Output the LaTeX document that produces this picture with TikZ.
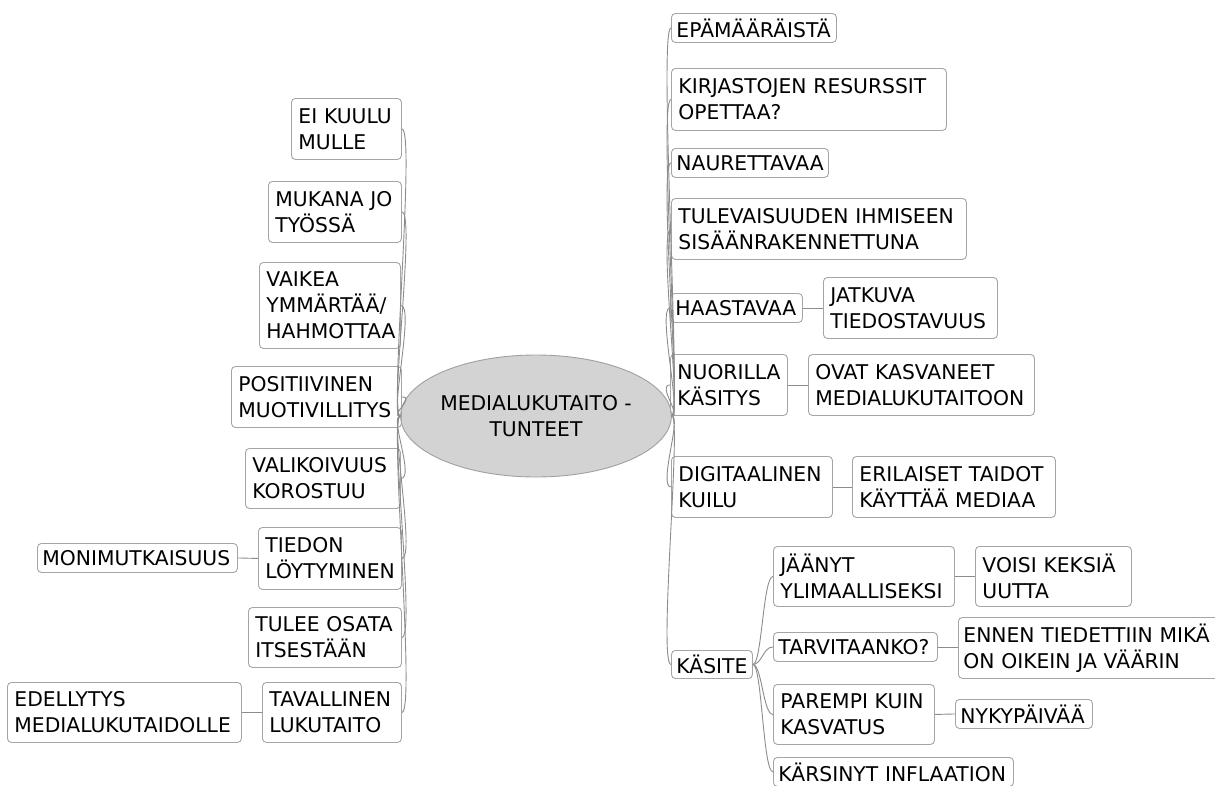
\documentclass[tikz,border=0pt]{standalone}
\usepackage{fontspec}
\setmainfont{DejaVu Sans}
\usetikzlibrary{shapes.geometric}
\definecolor{boxline}{RGB}{165,165,165}
\definecolor{conn}{RGB}{140,140,140}
\definecolor{ellfill}{RGB}{211,211,211}
\definecolor{ellline}{RGB}{160,160,160}
\tikzset{
  bx/.style={draw=boxline, line width=0.9pt, rounded corners=4pt, anchor=north west,
    align=left, inner xsep=7pt, inner ysep=1pt, text=black,
    font=\fontsize{20.3}{26}\selectfont},
  one/.style={inner xsep=5pt, minimum height=29pt},
  two/.style={minimum height=61pt},
  link/.style={draw=conn, line width=0.9pt},
  central/.style={ellipse, draw=ellline, fill=ellfill, line width=0.9pt,
    minimum width=230pt, minimum height=122pt, inner sep=0pt, align=center,
    font=\fontsize{20.3}{26}\selectfont}
}
\begin{document}
\begin{tikzpicture}[x=1pt,y=-1pt]
\useasboundingbox (0,0) rectangle (1215,785);
\clip (0,0) rectangle (1215,785);

\node[central] (c) at (536,416) {MEDIALUKUTAITO -\\TUNTEET};

% left side
\node[bx,two,text width=96pt] (ekuulu) at (291,98) {EI~KUULU\\MULLE};
\node[bx,two,text width=119pt] (mukana) at (268,181) {MUKANA~JO\\TYÖSSÄ};
\node[bx,minimum height=86pt,text width=127pt] (vaikea) at (259,262) {VAIKEA\\YMMÄRTÄÄ/\\HAHMOTTAA};
\node[bx,two,text width=156pt] (posit) at (231,366) {POSITIIVINEN\\MUOTIVILLITYS};
\node[bx,minimum height=60pt,text width=141pt] (valik) at (245,448) {VALIKOIVUUS\\KOROSTUU};
\node[bx,minimum height=62pt,text width=129pt] (tiedon) at (258,527) {TIEDON\\LÖYTYMINEN};
\node[bx,one,text width=190pt] (moni) at (37,543) {MONIMUTKAISUUS};
\node[bx,minimum height=60pt,text width=139pt] (tulee) at (248,607) {TULEE~OSATA\\ITSESTÄÄN};
\node[bx,minimum height=60pt,text width=125pt] (taval) at (262,682) {TAVALLINEN\\LUKUTAITO};
\node[bx,minimum height=60pt,text width=220pt] (edell) at (7,682) {EDELLYTYS\\MEDIALUKUTAIDOLLE};

% right side
\node[bx,one,text width=155pt] (epa) at (671,13) {EPÄMÄÄRÄISTÄ};
\node[bx,minimum height=62pt,text width=261pt] (kirj) at (671,68) {KIRJASTOJEN~RESURSSIT\\OPETTAA?};
\node[bx,one,text width=147pt] (naur) at (671,148) {NAURETTAVAA};
\node[bx,two,text width=281pt] (tulev) at (671,198) {TULEVAISUUDEN~IHMISEEN\\SISÄÄNRAKENNETTUNA};
\node[bx,one,text width=122pt] (haast) at (670,293) {HAASTAVAA};
\node[bx,two,text width=160pt] (jatk) at (823,277) {JATKUVA\\TIEDOSTAVUUS};
\node[bx,two,text width=103pt] (nuor) at (670,354) {NUORILLA\\KÄSITYS};
\node[bx,two,text width=212pt] (ovat) at (808,354) {OVAT~KASVANEET\\MEDIALUKUTAITOON};
\node[bx,two,text width=147pt] (digi) at (671,456) {DIGITAALINEN\\KUILU};
\node[bx,two,text width=189pt] (eril) at (852,456) {ERILAISET~TAIDOT\\KÄYTTÄÄ~MEDIAA};
\node[bx,one,minimum height=28pt,text width=71pt] (kasite) at (671,650) {KÄSITE};
\node[bx,minimum height=60pt,text width=167pt] (jaan) at (773,546) {JÄÄNYT\\YLIMAALLISEKSI};
\node[bx,minimum height=60pt,text width=142pt] (voisi) at (975,546) {VOISI~KEKSIÄ\\UUTTA};
\node[bx,one,text width=154pt] (tarv) at (773,632) {TARVITAANKO?};
\node[bx,two,inner xsep=5pt,text width=290pt] (ennen) at (958,617) {ENNEN~TIEDETTIIN~MIKÄ\\ON~OIKEIN~JA~VÄÄRIN};
\node[bx,minimum height=60pt,text width=147pt] (parem) at (773,684) {PAREMPI~KUIN\\KASVATUS};
\node[bx,one,text width=127pt] (nyky) at (955,699) {NYKYPÄIVÄÄ};
\node[bx,one,text width=230pt] (kars) at (773,757) {KÄRSINYT~INFLAATION};

% connectors: left
\foreach \n in {ekuulu,mukana,vaikea,posit,valik,tiedon,tulee,taval}
  \draw[link] (\n.east) .. controls +(14,0) and +(-11,0) .. (c.west);
\draw[link] (tiedon.west) -- (moni.east);
\draw[link] (taval.west) -- (edell.east);

% connectors: right
\foreach \n in {epa,kirj,naur,tulev,haast,nuor,digi,kasite}
  \draw[link] (c.east) .. controls +(10,0) and +(-13,0) .. (\n.west);
\draw[link] (haast.east) -- (jatk.west);
\draw[link] (nuor.east) -- (ovat.west);
\draw[link] (digi.east) -- (eril.west);
\foreach \n in {jaan,tarv,parem,kars}
  \draw[link] (kasite.east) .. controls +(9,0) and +(-10,0) .. (\n.west);
\draw[link] (jaan.east) -- (voisi.west);
\draw[link] (tarv.east) -- (ennen.west |- tarv.east);
\draw[link] (parem.east) -- (nyky.west);
\end{tikzpicture}
\end{document}
